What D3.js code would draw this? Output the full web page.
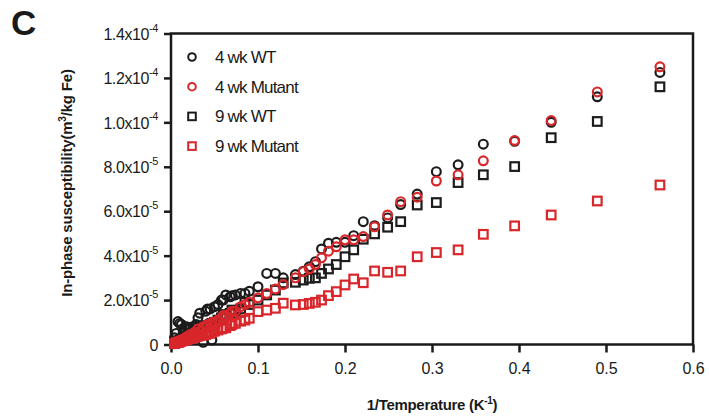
<!DOCTYPE html>
<html lang="en">
<head>
<meta charset="UTF-8">
<title>In-phase susceptibility</title>
<script src="https://d3js.org/d3.v7.min.js"></script>
<style>
  body { margin: 0; background: #fff; }
  text { font-family: "Liberation Sans", Arial, sans-serif; fill: #1a1a1a; }
</style>
</head>
<body>
<div id="chart"></div>
<script>
  // 1/T values (K^-1) shared by all four series
  const invT = [0.562, 0.49, 0.437, 0.395, 0.359, 0.33, 0.305, 0.283, 0.264, 0.249,
                0.234, 0.221, 0.21, 0.2, 0.19, 0.181, 0.173, 0.166, 0.159, 0.152,
                0.143, 0.129, 0.12, 0.11, 0.1, 0.09, 0.08, 0.074, 0.068, 0.063,
                0.058, 0.05, 0.045, 0.04, 0.033, 0.029, 0.025, 0.02, 0.016, 0.012, 0.008,
                0.085, 0.07, 0.06, 0.054, 0.047, 0.042, 0.037, 0.031, 0.027, 0.022,
                0.018, 0.014, 0.01, 0.006, 0.004];

  // susceptibility in units of 1e-5 m^3/kg Fe
  const wt4 = [12.25, 11.15, 10.0, 9.15, 9.02, 8.09, 7.78, 6.77, 6.3, 5.7,
               5.35, 5.53, 4.9, 4.6, 4.6, 4.56, 4.3, 3.73, 3.5, 3.3,
               3.15, 3.0, 3.2, 3.2, 2.6, 2.4, 2.3, 2.23, 2.15, 2.23,
               2.0, 1.7, 1.6, 1.5, 1.41, 0.9, 0.8, 0.74, 0.74, 0.9, 1.03,
               2.3, 2.2, 2.0, 1.8, 0.2, 1.6, 0.1, 1.2, 0.8, 0.75,
               0.8, 0.6, 0.95, 0.5, 0.3];
  const mut4 = [12.5, 11.37, 10.08, 9.18, 8.27, 7.64, 7.36, 6.63, 6.43, 5.83,
                5.3, 4.86, 4.71, 4.71, 4.4, 4.2, 3.9, 3.6, 3.4, 3.28,
                3.0, 2.7, 2.5, 2.3, 2.1, 1.9, 1.7, 1.5, 1.4, 1.3,
                1.2, 1.0, 0.9, 0.8, 0.6, 0.5, 0.4, 0.3, 0.2, 0.1, 0.05,
                1.8, 1.5, 1.3, 1.1, 1.0, 0.9, 0.8, 0.7, 0.55, 0.45,
                0.35, 0.25, 0.15, 0.08, 0.03];
  const wt9 = [11.6, 10.04, 9.31, 8.01, 7.64, 7.29, 6.39, 6.28, 5.53, 5.28,
               4.98, 4.74, 4.26, 3.95, 3.6, 3.4, 3.2, 3.0, 2.98, 2.9,
               2.8, 2.77, 2.45, 2.23, 2.0, 1.8, 1.6, 1.5, 1.4, 1.3,
               1.2, 1.0, 0.9, 0.8, 0.7, 0.6, 0.5, 0.4, 0.3, 0.2, 0.1,
               1.9, 1.55, 1.35, 1.1, 0.95, 0.85, 0.75, 0.65, 0.55, 0.45,
               0.35, 0.3, 0.2, 0.1, 0.05];
  const mut9 = [7.18, 6.46, 5.83, 5.34, 4.96, 4.26, 4.14, 3.95, 3.31, 3.25,
                3.31, 2.78, 2.95, 2.68, 2.38, 2.2, 2.0, 1.9, 1.85, 1.8,
                1.78, 1.86, 1.63, 1.55, 1.48, 1.18, 1.05, 0.95, 0.85, 0.75,
                0.7, 0.6, 0.5, 0.45, 0.4, 0.35, 0.3, 0.25, 0.2, 0.15, 0.1,
                1.1, 0.9, 0.75, 0.65, 0.55, 0.5, 0.42, 0.38, 0.32, 0.27,
                0.22, 0.18, 0.12, 0.08, 0.04];

  const xTicks = [0, 0.1, 0.2, 0.3, 0.4, 0.5, 0.6];
  const xTickLabels = ["0.0", "0.1", "0.2", "0.3", "0.4", "0.5", "0.6"];
  const yTicks = [0, 2, 4, 6, 8, 10, 12, 14];
  const yTickLabels = [["0", ""], ["2.0x10", "-5"], ["4.0x10", "-5"], ["6.0x10", "-5"],
                       ["8.0x10", "-5"], ["1.0x10", "-4"], ["1.2x10", "-4"], ["1.4x10", "-4"]];

  const seriesNames = ["4 wk WT", "4 wk Mutant", "9 wk WT", "9 wk Mutant"];
  const seriesData = [wt4, mut4, wt9, mut9];
  const seriesColors = ["#1c1c1c", "#d8262b", "#1c1c1c", "#d8262b"];
  const seriesShapes = ["circle", "circle", "square", "square"];
  const drawOrder = [0, 2, 1, 3]; // black first, red on top

  const width = 709, height = 417;
  const margin = { top: 33.5, right: 16, bottom: 72.5, left: 171 };
  const innerW = width - margin.left - margin.right;
  const innerH = height - margin.top - margin.bottom;

  const svg = d3.select('#chart').append('svg')
      .attr('width', width)
      .attr('height', height);

  const x = d3.scaleLinear().domain([0, 0.6]).range([0, innerW]);
  const y = d3.scaleLinear().domain([0, 14]).range([innerH, 0]);

  const g = svg.append('g').attr('transform', `translate(${margin.left},${margin.top})`);

  // panel letter
  svg.append('text')
      .attr('x', 11).attr('y', 35)
      .attr('font-size', 35).attr('font-weight', 'bold')
      .text('C');

  // frame
  g.append('rect')
      .attr('width', innerW).attr('height', innerH)
      .attr('fill', 'none').attr('stroke', '#1a1a1a').attr('stroke-width', 2.5);

  // x axis
  const xAxis = g.append('g')
      .attr('transform', `translate(0,${innerH})`)
      .call(d3.axisBottom(x).tickValues(xTicks).tickSize(8).tickPadding(10)
          .tickFormat((d, i) => xTickLabels[i]));
  xAxis.select('.domain').remove();
  xAxis.selectAll('line').attr('stroke', '#1a1a1a').attr('stroke-width', 2.5);
  xAxis.selectAll('text').attr('font-size', 16).attr('fill', '#2a2a2a')
      .attr('font-family', '"Liberation Sans", Arial, sans-serif');

  // y axis
  const yAxis = g.append('g')
      .call(d3.axisLeft(y).tickValues(yTicks).tickSize(7).tickPadding(9).tickFormat(''));
  yAxis.select('.domain').remove();
  yAxis.selectAll('line').attr('stroke', '#1a1a1a').attr('stroke-width', 2.5);
  yAxis.selectAll('.tick').each(function(d, i) {
    const t = d3.select(this).select('text')
        .attr('font-size', 16).attr('fill', '#2a2a2a')
        .attr('font-family', '"Liberation Sans", Arial, sans-serif')
        .attr('letter-spacing', -0.4)
        .attr('x', -13).attr('dy', '0.36em');
    t.append('tspan').text(yTickLabels[i][0]);
    if (yTickLabels[i][1]) {
      t.append('tspan').attr('font-size', 11).attr('dy', '-0.75em').text(yTickLabels[i][1]);
    }
  });

  // axis titles
  const xt = svg.append('text')
      .attr('x', 432).attr('y', 410)
      .attr('text-anchor', 'middle')
      .attr('font-size', 15).attr('font-weight', 'bold').attr('letter-spacing', -0.3);
  xt.append('tspan').text('1/Temperature (K');
  xt.append('tspan').attr('font-size', 10).attr('dy', -6).text('-1');
  xt.append('tspan').attr('dy', 6).text(')');

  const yt = svg.append('text')
      .attr('transform', 'translate(72,183) rotate(-90)')
      .attr('text-anchor', 'middle')
      .attr('font-size', 15).attr('font-weight', 'bold').attr('letter-spacing', -0.2);
  yt.append('tspan').text('In-phase susceptibility(m');
  yt.append('tspan').attr('font-size', 10).attr('dy', -6).text('3');
  yt.append('tspan').attr('dy', 6).text('/kg Fe)');

  // data points
  drawOrder.forEach(s => {
    const vals = seriesData[s];
    const pts = invT.map((v, i) => ({ x: v, y: vals[i] }));
    const grp = g.append('g');
    if (seriesShapes[s] === 'circle') {
      grp.selectAll('circle')
          .data(pts)
          .enter()
          .append('circle')
          .attr('cx', d => x(d.x))
          .attr('cy', d => y(d.y))
          .attr('r', 4.4)
          .attr('fill', 'none')
          .attr('stroke', seriesColors[s])
          .attr('stroke-width', 2.2);
    } else {
      grp.selectAll('rect')
          .data(pts)
          .enter()
          .append('rect')
          .attr('x', d => x(d.x) - 4.3)
          .attr('y', d => y(d.y) - 4.3)
          .attr('width', 8.6)
          .attr('height', 8.6)
          .attr('fill', 'none')
          .attr('stroke', seriesColors[s])
          .attr('stroke-width', 2.2);
    }
  });

  // legend
  const legend = svg.append('g').attr('transform', 'translate(192,57)');
  seriesNames.forEach((name, i) => {
    const row = legend.append('g').attr('transform', `translate(0,${i * 29.7})`);
    if (seriesShapes[i] === 'circle') {
      row.append('circle').attr('r', 3.8)
          .attr('fill', 'none').attr('stroke', seriesColors[i]).attr('stroke-width', 2);
    } else {
      row.append('rect').attr('x', -3.8).attr('y', -3.8).attr('width', 7.6).attr('height', 7.6)
          .attr('fill', 'none').attr('stroke', seriesColors[i]).attr('stroke-width', 2);
    }
    row.append('text')
        .attr('x', 23).attr('dy', '0.35em')
        .attr('font-size', 17).attr('letter-spacing', -0.8)
        .text(name);
  });
</script>
</body>
</html>
